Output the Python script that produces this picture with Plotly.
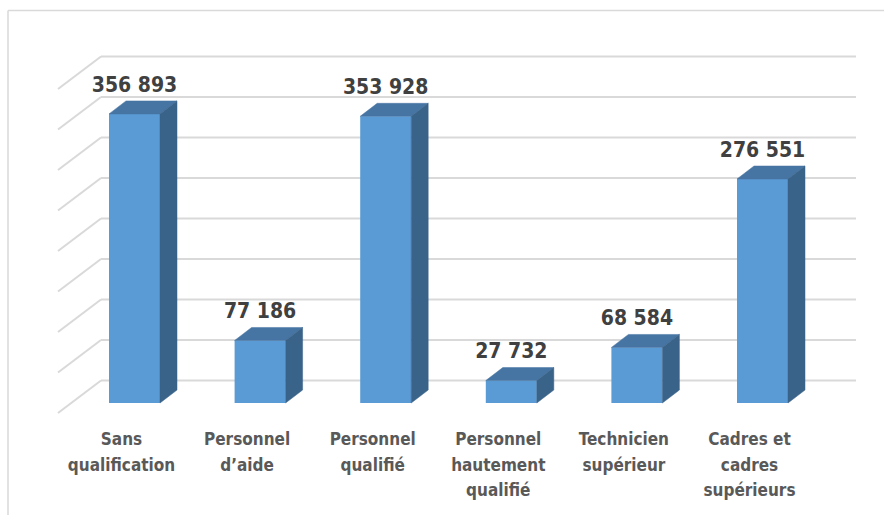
import plotly.graph_objects as go

# ---- data ----
categories = ["Sans<br>qualification", "Personnel<br>d’aide", "Personnel<br>qualifié",
              "Personnel<br>hautement<br>qualifié", "Technicien<br>supérieur",
              "Cadres et<br>cadres<br>supérieurs"]
values = [356893, 77186, 353928, 27732, 68584, 276551]
value_labels = ["356 893", "77 186", "353 928", "27 732", "68 584", "276 551"]
grid_ticks = [0, 50000, 100000, 150000, 200000, 250000, 300000, 350000, 400000]

# ---- geometry (pixel-based projection helpers) ----
W, H = 884, 515
CAT_PX = 125.6          # px between categories
X0_PX = 134.5           # px of first bar front centre
Y0_PX = 403.0           # px of front baseline
K = 50000 / 40.5        # value units per px
BAR_W = 51 / CAT_PX
DDX, DDY = 17 / CAT_PX, 13 * K            # bar depth offsets
WALL_DY = (Y0_PX - 380.5) * K             # back wall zero vs front zero
WALL_L = (101 - X0_PX) / CAT_PX
WALL_R = (856 - X0_PX) / CAT_PX
SIDE_DX, SIDE_DY = -43 / CAT_PX, -32.5 * K

FRONT = "#5B9BD5"
TOP = "#4674A3"
SIDE = "#3A6389"
GRID = "#D9D9D9"

x_rng = [(0 - X0_PX) / CAT_PX, (W - X0_PX) / CAT_PX]
y_rng = [-(H - Y0_PX) * K, Y0_PX * K]

fig = go.Figure()
xs = list(range(len(values)))

# front faces
fig.add_trace(go.Bar(x=xs, y=values, width=BAR_W, marker=dict(color=FRONT, line=dict(width=0)),
                     hoverinfo="skip"))

# top and side faces
for i, v in zip(xs, values):
    l, r = i - BAR_W / 2, i + BAR_W / 2
    fig.add_trace(go.Scatter(x=[l, r, r + DDX, l + DDX, l], y=[v, v, v + DDY, v + DDY, v],
                             fill="toself", fillcolor=TOP, mode="lines",
                             line=dict(width=0.5, color=TOP), hoverinfo="skip"))
    fig.add_trace(go.Scatter(x=[r, r + DDX, r + DDX, r, r], y=[0, DDY, v + DDY, v, 0],
                             fill="toself", fillcolor=SIDE, mode="lines",
                             line=dict(width=0.5, color=SIDE), hoverinfo="skip"))

# value labels
fig.add_trace(go.Scatter(x=xs, y=[v + 27.5 * K for v in values], mode="text", text=value_labels,
                         textposition="middle center",
                         textfont=dict(family="DejaVu Sans Condensed, DejaVu Sans", size=21,
                                       color="#404040", weight="bold"),
                         hoverinfo="skip"))

# category labels (one line per point for line spacing control)
lx, ly, lt = [], [], []
for i, c in enumerate(categories):
    for j, line in enumerate(c.split("<br>")):
        lx.append(i - 13 / CAT_PX)
        ly.append((Y0_PX - (441 + 25.5 * j)) * K)
        lt.append(line)
fig.add_trace(go.Scatter(x=lx, y=ly, mode="text", text=lt, textposition="middle center",
                         textfont=dict(family="DejaVu Sans Condensed, DejaVu Sans", size=17,
                                       color="#595959", weight="bold"),
                         hoverinfo="skip"))

# back wall gridlines and side wall diagonals
shapes = []
for t in grid_ticks:
    yy = t + WALL_DY
    shapes.append(dict(type="line", xref="x", yref="y", x0=WALL_L, x1=WALL_R, y0=yy, y1=yy,
                       line=dict(color=GRID, width=2), layer="below"))
    shapes.append(dict(type="line", xref="x", yref="y", x0=WALL_L, x1=WALL_L + SIDE_DX,
                       y0=yy, y1=yy + SIDE_DY, line=dict(color=GRID, width=2), layer="below"))
# chart border
shapes.append(dict(type="line", xref="paper", yref="paper", x0=8 / W, x1=1.0,
                   y0=1 - 10.5 / H, y1=1 - 10.5 / H, line=dict(color=GRID, width=1.5)))
shapes.append(dict(type="line", xref="paper", yref="paper", x0=8 / W, x1=8 / W,
                   y0=0, y1=1 - 10.5 / H, line=dict(color=GRID, width=1.5)))

fig.update_layout(
    width=W, height=H, autosize=False,
    margin=dict(l=0, r=0, t=0, b=0),
    paper_bgcolor="white", plot_bgcolor="white",
    showlegend=False, hovermode=False,
    shapes=shapes,
    xaxis=dict(range=x_rng, visible=False, fixedrange=True),
    yaxis=dict(range=y_rng, visible=False, fixedrange=True),
)

fig.write_html("out.html", config={"displayModeBar": False},
               post_script="document.body.style.margin='0';document.body.style.overflow='hidden';")
